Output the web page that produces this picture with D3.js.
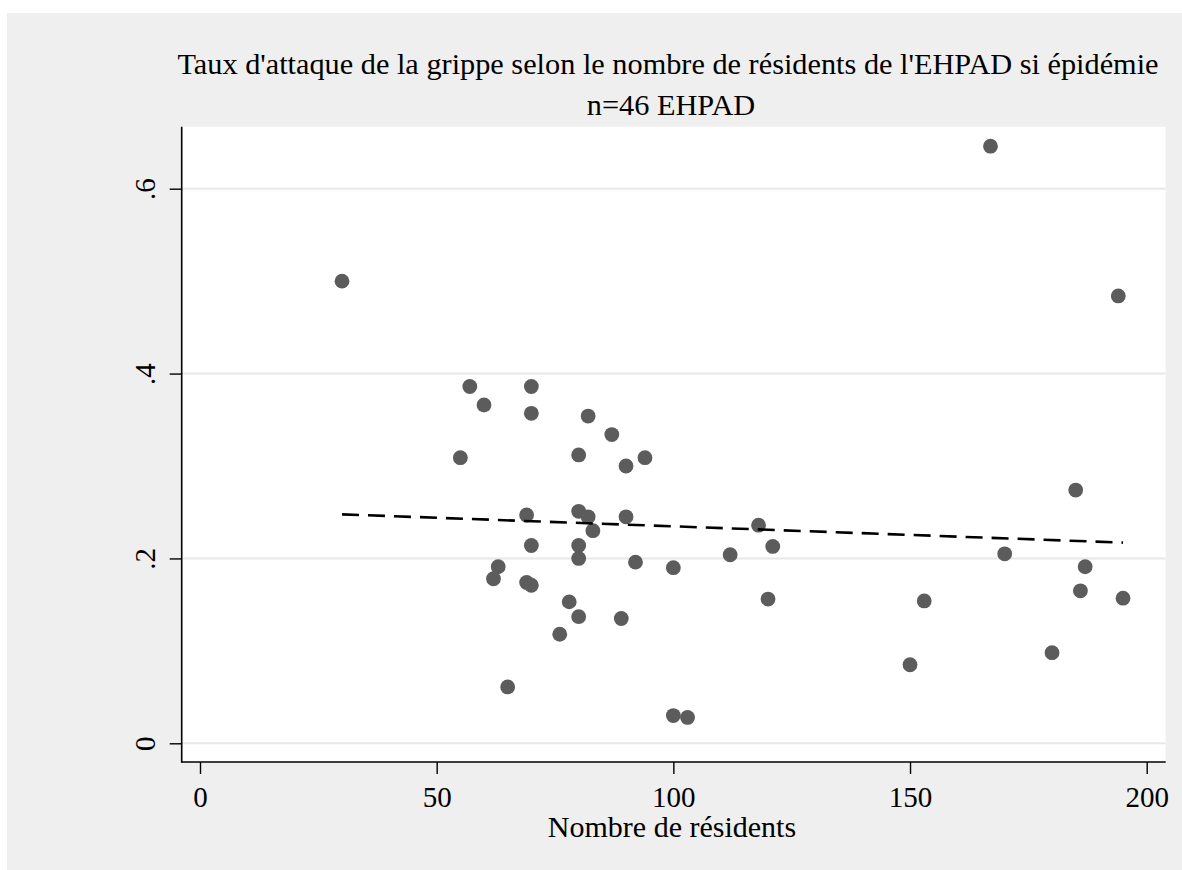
<!DOCTYPE html>
<html><head><meta charset="utf-8">
<script src="https://cdn.jsdelivr.net/npm/d3@7"></script>
<style>body{margin:0;background:#ffffff}svg{display:block}</style>
</head><body><svg id="c" width="1182" height="870"></svg>
<script>
// ---- data ----
const residents = [30,55,57,60,63,62,65,69,70,70,70,69,70,76,78,80,80,80,80,80,82,82,83,87,89,90,90,92,94,100,100,103,112,118,120,121,150,153,167,170,180,185,186,187,194,195];
const attackRate = [0.500,0.309,0.386,0.366,0.191,0.178,0.061,0.247,0.386,0.357,0.214,0.174,0.171,0.118,0.153,0.312,0.251,0.214,0.200,0.137,0.354,0.245,0.230,0.334,0.135,0.300,0.245,0.196,0.309,0.190,0.030,0.028,0.204,0.236,0.156,0.213,0.085,0.154,0.646,0.205,0.098,0.274,0.165,0.191,0.484,0.157];
const fitX = [30, 195];
const fitY = [0.2477, 0.2171];
const xTicks = [0, 50, 100, 150, 200];
const yTicks = [0, 0.2, 0.4, 0.6];
const yTickLabels = ["0", ".2", ".4", ".6"];
const titleText = "Taux d'attaque de la grippe selon le nombre de résidents de l'EHPAD si épidémie";
const subtitleText = "n=46 EHPAD";
const xTitleText = "Nombre de résidents";

// ---- layout ----
const W = 1182, H = 870;
const plot = {left: 181.7, right: 1165.7, top: 126.7, bottom: 762};
const font = "'Liberation Serif', 'Times New Roman', serif";
const svg = d3.select("#c");

svg.append("rect").attr("x", 7).attr("y", 13).attr("width", W - 7).attr("height", H - 13).attr("fill", "#efefef");
svg.append("rect").attr("x", plot.left).attr("y", plot.top)
  .attr("width", plot.right - plot.left).attr("height", plot.bottom - plot.top).attr("fill", "#ffffff");

const x = d3.scaleLinear().domain([0, 200]).range([200, 1146.7]);
const y = d3.scaleLinear().domain([0, 0.6]).range([743.3, 188.7]);

// grid
svg.append("g").selectAll("line").data(yTicks).join("line")
  .attr("x1", plot.left).attr("x2", plot.right)
  .attr("y1", d => y(d)).attr("y2", d => y(d))
  .attr("stroke", "#e8e8e8").attr("stroke-width", 2);

// y axis
const yAxis = d3.axisLeft(y).tickValues(yTicks).tickSize(12).tickSizeOuter(0)
  .tickFormat((d, i) => yTickLabels[i]);
const gy = svg.append("g").attr("transform", `translate(${plot.left},0)`).call(yAxis);
gy.select(".domain").remove();
gy.selectAll(".tick line").attr("stroke", "#000").attr("stroke-width", 1.4);
gy.selectAll(".tick text")
  .attr("x", null).attr("dy", null)
  .attr("transform", "translate(-27,0) rotate(-90)")
  .attr("text-anchor", "middle")
  .attr("font-family", font).attr("font-size", 29).attr("fill", "#000");

// x axis
const xAxis = d3.axisBottom(x).tickValues(xTicks).tickSize(12).tickSizeOuter(0).tickFormat(d3.format("d"));
const gx = svg.append("g").attr("transform", `translate(0,${plot.bottom})`).call(xAxis);
gx.select(".domain").remove();
gx.selectAll(".tick line").attr("stroke", "#000").attr("stroke-width", 1.4);
gx.selectAll(".tick text")
  .attr("y", 44.5).attr("dy", null)
  .attr("font-family", font).attr("font-size", 29).attr("fill", "#000");

// axis lines
svg.append("line").attr("x1", plot.left).attr("x2", plot.left).attr("y1", plot.top).attr("y2", plot.bottom + 0.7)
  .attr("stroke", "#000").attr("stroke-width", 1.6);
svg.append("line").attr("x1", plot.left).attr("x2", plot.right).attr("y1", plot.bottom).attr("y2", plot.bottom)
  .attr("stroke", "#000").attr("stroke-width", 1.6);

// points
const pts = residents.map((r, i) => ({r, a: attackRate[i]}));
svg.append("g").selectAll("circle").data(pts).join("circle")
  .attr("cx", d => x(d.r)).attr("cy", d => y(d.a)).attr("r", 7.4)
  .attr("fill", "#5c5c5c");

// fitted line
const fit = fitX.map((v, i) => [v, fitY[i]]);
svg.append("path").datum(fit)
  .attr("d", d3.line().x(d => x(d[0])).y(d => y(d[1])))
  .attr("fill", "none").attr("stroke", "#000").attr("stroke-width", 2.6)
  .attr("stroke-dasharray", "17,9");

// titles
svg.append("text").attr("x", 668).attr("y", 74).attr("text-anchor", "middle")
  .attr("font-family", font).attr("font-size", 30.3).attr("fill", "#000").text(titleText);
svg.append("text").attr("x", 671).attr("y", 115).attr("text-anchor", "middle")
  .attr("font-family", font).attr("font-size", 30.3).attr("fill", "#000").text(subtitleText);
svg.append("text").attr("x", 672).attr("y", 837).attr("text-anchor", "middle")
  .attr("font-family", font).attr("font-size", 30).attr("fill", "#000").text(xTitleText);
</script>
</body></html>
